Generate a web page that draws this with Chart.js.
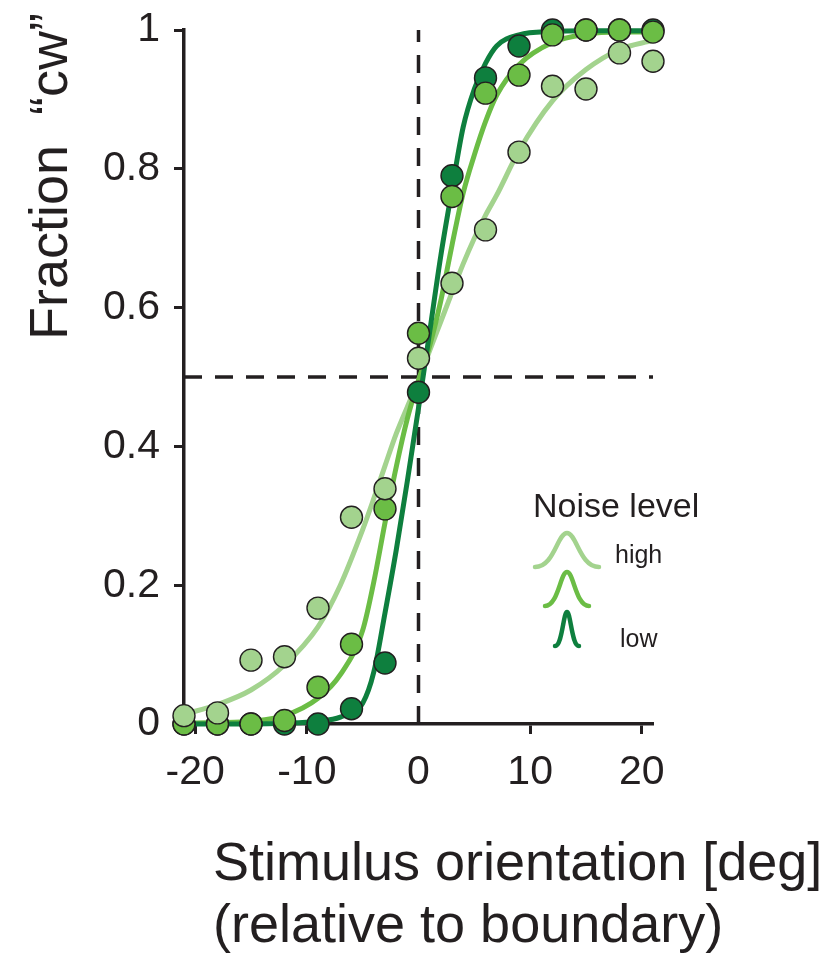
<!DOCTYPE html>
<html>
<head>
<meta charset="utf-8">
<script src="https://cdn.jsdelivr.net/npm/chart.js@4.4.0/dist/chart.umd.min.js"></script>
<style>
  html, body { margin: 0; padding: 0; background: #fff; }
  canvas { display: block; }
</style>
</head>
<body>
<canvas id="psychCanvas" width="831" height="957"></canvas>
<script>
// stimulus orientation (deg, relative to boundary)
var orientations = [-21, -18, -15, -12, -9, -6, -3, 0, 3, 6, 9, 12, 15, 18, 21];

// measured fraction "cw" per noise level
var fracHigh = [0.012, 0.016, 0.092, 0.097, 0.167, 0.298, 0.339, 0.527, 0.635, 0.712, 0.824, 0.919, 0.915, 0.967, 0.955];
var fracMid  = [0.0, 0.0, 0.0, 0.005, 0.053, 0.115, 0.31, 0.563, 0.76, 0.909, 0.935, 0.993, 1.0, 1.0, 0.997];
var fracLow  = [0.0, 0.0, 0.0, 0.0, 0.0, 0.022, 0.088, 0.478, 0.79, 0.931, 0.977, 1.0, 1.0, 1.0, 1.0];

// fitted curves
var fitX    = [-21, -18, -15, -12, -9, -7, -5, -4, -3, -2, -1, 0, 1, 2, 3, 4, 5, 6, 7, 9, 12, 15, 18, 21];
var fitHigh = [0.014, 0.028, 0.049, 0.085, 0.14, 0.2, 0.28, 0.325, 0.372, 0.418, 0.457, 0.495, 0.538, 0.58, 0.622, 0.663, 0.7, 0.733, 0.762, 0.826, 0.898, 0.943, 0.972, 0.985];
var fitMid  = [0.001, 0.002, 0.004, 0.012, 0.037, 0.071, 0.135, 0.205, 0.29, 0.37, 0.44, 0.495, 0.545, 0.61, 0.69, 0.765, 0.82, 0.868, 0.906, 0.95, 0.982, 0.994, 0.997, 0.997];
var fitLow  = [0.0, 0.0, 0.0, 0.001, 0.004, 0.01, 0.03, 0.075, 0.16, 0.25, 0.35, 0.455, 0.565, 0.675, 0.77, 0.86, 0.915, 0.952, 0.977, 0.993, 0.998, 0.999, 0.999, 0.999];

// reference lines
var boundaryX = [0, 0];
var boundaryY = [0, 1];
var chanceX = [-21, 21];
var chanceY = [0.5, 0.5];

var xTicks = [-20, -10, 0, 10, 20];
var yTicks = [0, 0.2, 0.4, 0.6, 0.8, 1];

var ink = '#231f20';
var colHigh = '#a3d38e';
var colMid = '#6bbd45';
var colLow = '#0e7f3e';
var fontFamily = '"Liberation Sans", Arial, Helvetica, sans-serif';

function pairs(xs, ys) {
    return xs.map(function(x, i) { return { x: x, y: ys[i] }; });
}

function pointSet(label, ys, color, order) {
    return {
        label: label,
        data: pairs(orientations, ys),
        showLine: false,
        pointRadius: 11,
        pointBackgroundColor: color,
        pointBorderColor: ink,
        pointBorderWidth: 1.4,
        clip: false,
        order: order
    };
}

function fitSet(label, ys, color, order) {
    return {
        label: label,
        data: pairs(fitX, ys),
        showLine: true,
        borderColor: color,
        borderWidth: 5,
        pointRadius: 0,
        cubicInterpolationMode: 'monotone',
        clip: false,
        order: order
    };
}

function refSet(label, xs, ys) {
    return {
        label: label,
        data: pairs(xs, ys),
        showLine: true,
        borderColor: ink,
        borderWidth: 3.5,
        borderDash: [18, 13],
        pointRadius: 0,
        clip: false,
        order: 10
    };
}

// no extra room for first/last tick labels, the plot box is fixed by layout padding
function noLabelPadding(scale) {
    scale.paddingTop = 0;
    scale.paddingBottom = 0;
    scale.paddingLeft = 0;
    scale.paddingRight = 0;
}

// titles and the little noise-level legend
var extraText = {
    id: 'extraText',
    afterDraw: function(chart) {
        var ctx = chart.ctx;
        ctx.save();
        ctx.fillStyle = ink;
        ctx.textAlign = 'left';
        ctx.textBaseline = 'alphabetic';

        ctx.save();
        ctx.font = '54px ' + fontFamily;
        ctx.translate(67, 340);
        ctx.rotate(-Math.PI / 2);
        ctx.fillText('Fraction  \u201Ccw\u201D', 0, 0);
        ctx.restore();

        ctx.font = '54px ' + fontFamily;
        ctx.fillText('Stimulus orientation [deg]', 213, 880);
        ctx.fillText('(relative to boundary)', 213, 942);

        ctx.font = '34px ' + fontFamily;
        ctx.fillText('Noise level', 533, 517);
        ctx.font = '25px ' + fontFamily;
        ctx.fillText('high', 615, 563);
        ctx.fillText('low', 620, 647);

        var bumps = [
            { color: colHigh, cx: 567, base: 567, half: 32, h: 34 },
            { color: colMid, cx: 567, base: 606, half: 22, h: 34 },
            { color: colLow, cx: 567, base: 646, half: 12, h: 34 }
        ];
        ctx.lineWidth = 4.5;
        ctx.lineCap = 'round';
        bumps.forEach(function(b) {
            var l = b.cx - b.half, r = b.cx + b.half, top = b.base - b.h;
            ctx.strokeStyle = b.color;
            ctx.beginPath();
            ctx.moveTo(l, b.base);
            ctx.bezierCurveTo(l + b.half * 0.6, b.base, b.cx - b.half * 0.3, top, b.cx, top);
            ctx.bezierCurveTo(b.cx + b.half * 0.3, top, r - b.half * 0.6, b.base, r, b.base);
            ctx.stroke();
        });
        ctx.restore();
    }
};

const ctxPsych = document.getElementById('psychCanvas').getContext('2d');
const chartPsych = new Chart(ctxPsych, {
    type: 'scatter',
    data: {
        datasets: [
            pointSet('high points', fracHigh, colHigh, 1),
            pointSet('mid points', fracMid, colMid, 2),
            pointSet('low points', fracLow, colLow, 3),
            fitSet('low fit', fitLow, colLow, 4),
            fitSet('mid fit', fitMid, colMid, 5),
            fitSet('high fit', fitHigh, colHigh, 6),
            refSet('boundary', boundaryX, boundaryY),
            refSet('chance', chanceX, chanceY)
        ]
    },
    options: {
        responsive: false,
        animation: false,
        events: [],
        layout: { padding: { top: 30, right: 178, left: 0, bottom: 0 } },
        plugins: {
            legend: { display: false },
            tooltip: { enabled: false }
        },
        scales: {
            x: {
                type: 'linear',
                min: -21,
                max: 21,
                afterBuildTicks: function(scale) {
                    scale.ticks = xTicks.map(function(v) { return { value: v }; });
                },
                afterFit: function(scale) { scale.height = 233; noLabelPadding(scale); },
                border: { display: true, width: 3.5, color: ink },
                grid: {
                    drawOnChartArea: false,
                    drawTicks: true,
                    tickLength: 10,
                    tickWidth: 3,
                    tickColor: function(c) { return c.tick && c.tick.value === 0 ? 'rgba(0,0,0,0)' : ink; }
                },
                ticks: {
                    color: ink,
                    padding: 14,
                    maxRotation: 0,
                    font: { family: fontFamily, size: 41 },
                    callback: function(v) { return String(v); }
                }
            },
            y: {
                type: 'linear',
                min: 0,
                max: 1,
                afterBuildTicks: function(scale) {
                    scale.ticks = yTicks.map(function(v) { return { value: v }; });
                },
                afterFit: function(scale) { scale.width = 184; noLabelPadding(scale); },
                border: { display: true, width: 3.5, color: ink },
                grid: {
                    drawOnChartArea: false,
                    drawTicks: true,
                    tickLength: 10,
                    tickWidth: 3,
                    tickColor: function(c) { return c.tick && c.tick.value === 0 ? 'rgba(0,0,0,0)' : ink; }
                },
                ticks: {
                    color: ink,
                    padding: 14,
                    font: { family: fontFamily, size: 41 },
                    callback: function(v) { return String(v); }
                }
            }
        }
    },
    plugins: [extraText]
});
</script>
</body>
</html>
